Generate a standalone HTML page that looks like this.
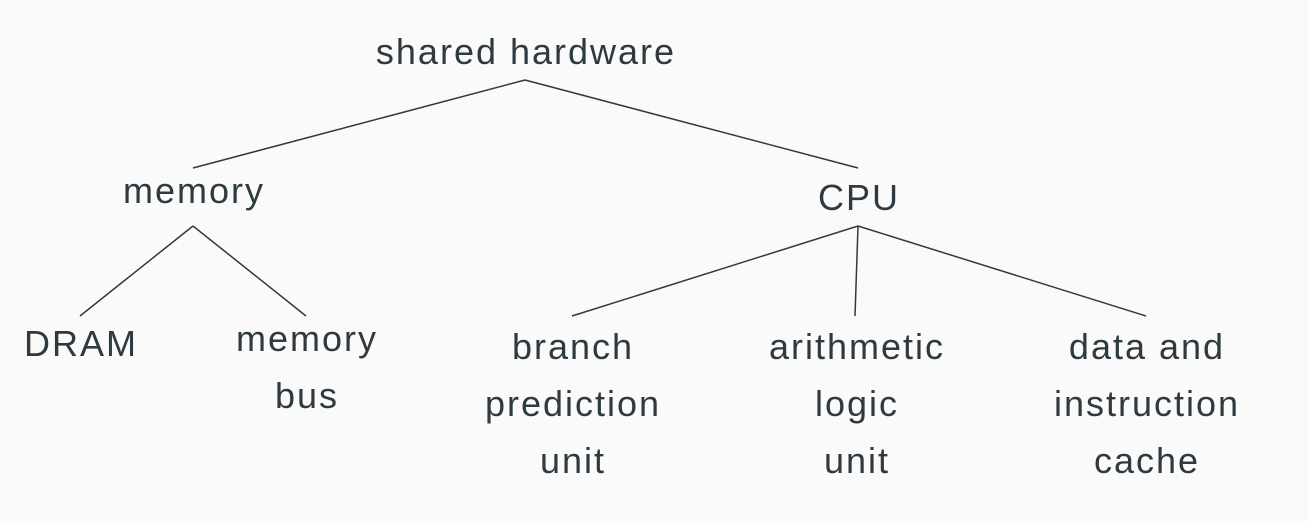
<!DOCTYPE html>
<html><head><style>
html,body{margin:0;padding:0;background:#fafafa;}
svg{display:block;}
text{font-family:"Liberation Sans",sans-serif;font-size:36px;fill:#2e3a40;text-anchor:middle;letter-spacing:2px;}
line{stroke:#2e3a40;stroke-width:1.5;}
</style></head><body>
<svg width="1308" height="521" viewBox="0 0 1308 521">
<rect width="1308" height="521" fill="#fafafa"/>
<text x="526" y="64">shared hardware</text>
<line x1="525" y1="80" x2="193" y2="168"/>
<line x1="525" y1="80" x2="858" y2="168"/>
<text x="194" y="203">memory</text>
<text x="859" y="210">CPU</text>
<line x1="193" y1="226" x2="80" y2="316"/>
<line x1="193" y1="226" x2="306" y2="316"/>
<line x1="858" y1="226" x2="572" y2="316"/>
<line x1="858" y1="226" x2="855" y2="316"/>
<line x1="858" y1="226" x2="1146" y2="316"/>
<text x="81" y="356">DRAM</text>
<text x="307" y="351">memory</text>
<text x="307" y="408">bus</text>
<text x="573" y="359">branch</text>
<text x="573" y="416">prediction</text>
<text x="573" y="473">unit</text>
<text x="857" y="359">arithmetic</text>
<text x="857" y="416">logic</text>
<text x="857" y="473">unit</text>
<text x="1147" y="359">data and</text>
<text x="1147" y="416">instruction</text>
<text x="1147" y="473">cache</text>
</svg>
</body></html>
